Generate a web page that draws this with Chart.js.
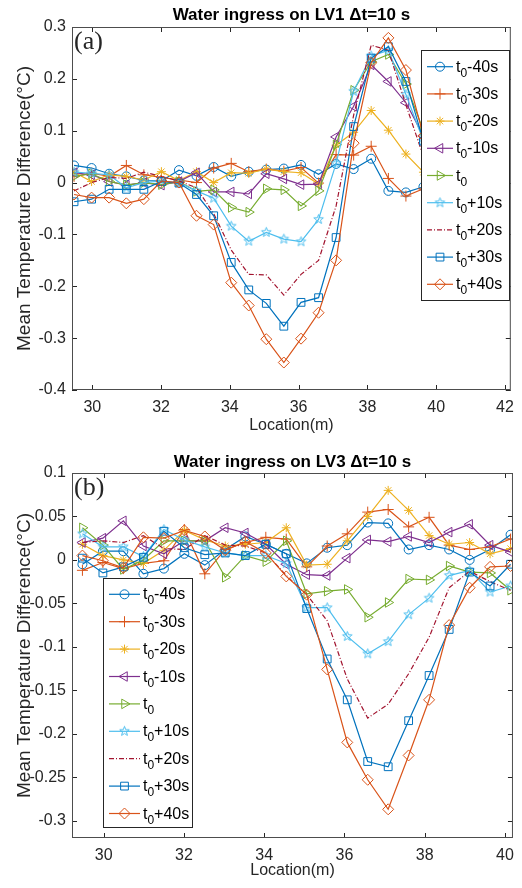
<!DOCTYPE html>
<html>
<head>
<meta charset="UTF-8">
<title>Water ingress</title>
<script src="https://cdn.jsdelivr.net/npm/chart.js@4.4.0/dist/chart.umd.min.js"></script>
<style>
  body { margin: 0; background: #fff; }
  canvas { display: block; }
</style>
</head>
<body>
<canvas id="chartA" width="522" height="444"></canvas>
<canvas id="chartB" width="522" height="444"></canvas>
<script>
// sensor locations (m), same for both panels
var xPos = [29.47, 29.98, 30.49, 30.99, 31.50, 32.01, 32.52, 33.03, 33.53, 34.04, 34.55,
            35.06, 35.57, 36.07, 36.58, 37.09, 37.60, 38.11, 38.61, 39.12, 39.63, 40.14];

var seriesLabels = ['t0-40s', 't0-30s', 't0-20s', 't0-10s', 't0', 't0+10s', 't0+20s', 't0+30s', 't0+40s'];

// panel (a): LV1
var lv1M40 = [0.033, 0.028, 0.017, 0.012, 0.004, 0.003, 0.024, 0.013, 0.030, 0.012, 0.021, 0.025, 0.027, 0.034, 0.016, 0.036, 0.026, 0.046, -0.016, -0.019, -0.008, 0.000];
var lv1M30 = [0.012, 0.018, 0.012, 0.033, 0.015, 0.010, 0.005, 0.000, 0.028, 0.037, 0.021, 0.026, 0.022, 0.029, -0.001, 0.054, 0.053, 0.070, 0.008, -0.026, -0.012, 0.000];
var lv1M20 = [0.020, 0.002, 0.015, 0.012, 0.005, 0.021, 0.004, 0.021, 0.000, 0.019, 0.018, 0.026, 0.021, 0.019, -0.003, 0.072, 0.097, 0.139, 0.101, 0.055, 0.020, 0.010];
var lv1M10 = [0.019, 0.015, 0.002, -0.005, 0.000, -0.005, 0.002, 0.019, -0.018, -0.018, -0.022, 0.017, 0.007, -0.004, -0.003, 0.088, 0.147, 0.227, 0.195, 0.154, 0.090, 0.030];
var lv1T0  = [0.012, 0.017, 0.002, -0.005, 0.000, -0.004, 0.002, -0.017, -0.014, -0.048, -0.057, -0.012, -0.014, -0.045, -0.016, 0.073, 0.178, 0.233, 0.247, 0.190, 0.100, 0.030];
var lv1P10 = [0.020, 0.018, 0.015, -0.010, 0.000, 0.003, 0.000, -0.016, -0.030, -0.084, -0.113, -0.096, -0.109, -0.114, -0.071, 0.037, 0.176, 0.244, 0.255, 0.170, 0.080, 0.020];
var lv1P20 = [-0.016, 0.000, 0.010, 0.008, 0.020, 0.012, 0.003, -0.010, -0.060, -0.130, -0.177, -0.178, -0.217, -0.177, -0.150, -0.045, 0.130, 0.265, 0.255, 0.150, 0.050, 0.000];
var lv1P30 = [-0.037, -0.032, -0.013, -0.013, -0.013, 0.002, -0.001, -0.023, -0.064, -0.154, -0.207, -0.233, -0.277, -0.231, -0.222, -0.106, 0.108, 0.240, 0.262, 0.195, 0.080, 0.010];
var lv1P40 = [-0.023, -0.029, -0.029, -0.040, -0.032, 0.003, 0.000, -0.064, -0.081, -0.193, -0.237, -0.302, -0.347, -0.301, -0.251, -0.150, 0.076, 0.231, 0.279, 0.217, 0.090, 0.010];

// panel (b): LV3
var lv3M40 = [-0.005, 0.010, 0.010, -0.016, -0.010, 0.007, -0.006, 0.012, 0.027, 0.018, 0.007, -0.004, 0.014, 0.017, 0.043, 0.042, 0.012, 0.017, 0.012, 0.000, 0.012, 0.029];
var lv3M30 = [-0.012, -0.003, -0.010, -0.004, -0.001, 0.035, -0.016, 0.012, 0.020, 0.026, 0.024, -0.008, 0.016, 0.030, 0.055, 0.058, 0.038, 0.049, 0.017, 0.012, 0.015, 0.024];
var lv3M20 = [0.018, 0.005, 0.000, -0.004, 0.011, 0.034, 0.023, 0.016, 0.018, 0.020, 0.037, -0.006, -0.005, 0.022, 0.050, 0.080, 0.057, 0.028, 0.018, 0.020, 0.007, 0.013];
var lv3M10 = [0.020, 0.025, 0.045, 0.016, 0.007, 0.022, 0.022, 0.037, 0.031, 0.018, -0.005, -0.017, -0.018, 0.002, 0.023, 0.021, 0.027, 0.020, 0.032, 0.041, 0.017, 0.009];
var lv3T0  = [0.037, 0.017, -0.011, 0.000, 0.022, 0.022, 0.022, -0.020, 0.005, -0.002, 0.022, -0.039, -0.036, -0.034, -0.066, -0.049, -0.022, -0.023, -0.007, -0.014, -0.015, -0.035];
var lv3P10 = [0.030, 0.015, 0.015, 0.004, 0.035, 0.023, 0.015, 0.008, 0.005, 0.005, -0.004, -0.055, -0.055, -0.088, -0.108, -0.094, -0.063, -0.044, -0.018, -0.012, -0.037, -0.030];
var lv3P20 = [0.020, 0.022, 0.020, 0.028, 0.013, 0.012, 0.028, 0.017, 0.016, 0.008, -0.018, -0.040, -0.070, -0.137, -0.182, -0.166, -0.131, -0.089, -0.032, -0.013, -0.025, -0.035];
var lv3P30 = [0.002, -0.015, -0.008, 0.003, 0.033, 0.014, 0.006, 0.008, 0.005, 0.018, 0.007, -0.056, -0.114, -0.161, -0.232, -0.238, -0.185, -0.133, -0.080, -0.014, -0.030, -0.005];
var lv3P40 = [0.005, -0.001, -0.009, 0.026, 0.025, 0.034, 0.027, 0.011, 0.021, 0.008, -0.019, -0.040, -0.126, -0.210, -0.253, -0.287, -0.225, -0.161, -0.075, -0.032, -0.008, -0.007];

// tick labels
var xTicksA = [30, 32, 34, 36, 38, 40, 42];
var yTicksA = [0.3, 0.2, 0.1, 0, -0.1, -0.2, -0.3, -0.4];
var xTicksB = [30, 32, 34, 36, 38, 40];
var yTicksB = [0.1, 0.05, 0, -0.05, -0.1, -0.15, -0.2, -0.25, -0.3];

// matlab default colour order
var colors = ['#0072BD', '#D95319', '#EDB120', '#7E2F8E', '#77AC30', '#4DBEEE', '#A2142F', '#0072BD', '#D95319'];

function pentagram(color, r) {
  var c = document.createElement('canvas');
  var s = Math.ceil(r * 2 + 3);
  c.width = s; c.height = s;
  var g = c.getContext('2d');
  g.strokeStyle = color;
  g.lineWidth = 1;
  g.beginPath();
  for (var k = 0; k < 10; k++) {
    var rr = k % 2 ? r * 0.42 : r;
    var ang = -Math.PI / 2 + k * Math.PI / 5;
    g.lineTo(s / 2 + rr * Math.cos(ang), s / 2 + rr * Math.sin(ang));
  }
  g.closePath();
  g.stroke();
  return c;
}

var markers = [
  { style: 'circle', rot: 0, r: 4.5 },
  { style: 'cross', rot: 0, r: 5.5 },
  { style: 'star', rot: 0, r: 4.5 },
  { style: 'triangle', rot: -90, r: 5.5 },
  { style: 'triangle', rot: 90, r: 5.5 },
  { style: pentagram(colors[5], 5), rot: 0, r: 5 },
  { style: 'circle', rot: 0, r: 0 },
  { style: 'rect', rot: 0, r: 5.5 },
  { style: 'rectRot', rot: 0, r: 5.5 }
];

function makeDatasets(values) {
  return values.map(function (v, i) {
    return {
      label: seriesLabels[i],
      data: xPos.map(function (x, k) { return { x: x, y: v[k] }; }),
      borderColor: colors[i],
      borderWidth: 1.2,
      borderDash: i === 6 ? [5, 2, 1, 2] : [],
      pointStyle: markers[i].style,
      pointRotation: markers[i].rot,
      pointRadius: markers[i].r,
      pointBorderColor: colors[i],
      pointBackgroundColor: 'rgba(0,0,0,0)',
      pointBorderWidth: 1,
      tension: 0,
      order: -i
    };
  });
}

// axes box with inward ticks, panel letter and matlab-like legend
var matlabAxes = {
  id: 'matlabAxes',
  afterDraw: function (chart) {
    var ctx = chart.ctx, a = chart.chartArea, o = chart.options.plugins.matlabAxes;
    var sx = chart.scales.x, sy = chart.scales.y;
    ctx.save();
    ctx.strokeStyle = '#262626';
    ctx.lineWidth = 1;
    ctx.beginPath();
    sx.ticks.forEach(function (t) {
      var px = Math.round(sx.getPixelForValue(t.value)) + 0.5;
      ctx.moveTo(px, a.bottom); ctx.lineTo(px, a.bottom - 5);
      ctx.moveTo(px, a.top); ctx.lineTo(px, a.top + 5);
    });
    sy.ticks.forEach(function (t) {
      var py = Math.round(sy.getPixelForValue(t.value)) + 0.5;
      ctx.moveTo(a.left, py); ctx.lineTo(a.left + 5, py);
      ctx.moveTo(a.right, py); ctx.lineTo(a.right - 5, py);
    });
    ctx.stroke();
    ctx.strokeStyle = '#4d4d4d';
    ctx.strokeRect(a.left + 0.5, a.top + 0.5, a.right - a.left - 1, a.bottom - a.top - 1);

    // panel letter
    ctx.fillStyle = '#262626';
    ctx.font = '26px "Liberation Serif"';
    ctx.textBaseline = 'alphabetic';
    ctx.textAlign = 'left';
    ctx.fillText(o.panel, a.left + 2, a.top + 22);

    // legend
    var L = o.legend;
    ctx.fillStyle = '#fff';
    ctx.fillRect(L.x, L.y, L.w, L.h);
    ctx.strokeStyle = '#262626';
    ctx.strokeRect(L.x + 0.5, L.y + 0.5, L.w, L.h);
    chart.data.datasets.forEach(function (ds, i) {
      var cy = L.firstY + i * L.rowH;
      ctx.strokeStyle = ds.borderColor;
      ctx.lineWidth = 1.2;
      ctx.setLineDash(ds.borderDash);
      ctx.beginPath();
      ctx.moveTo(L.lineX0, cy); ctx.lineTo(L.lineX1, cy);
      ctx.stroke();
      ctx.setLineDash([]);
      if (ds.pointRadius > 0) {
        ctx.lineWidth = 1;
        ctx.fillStyle = 'rgba(0,0,0,0)';
        Chart.helpers.drawPoint(ctx, {
          pointStyle: ds.pointStyle, rotation: ds.pointRotation,
          radius: ds.pointRadius, borderWidth: 1
        }, (L.lineX0 + L.lineX1) / 2, cy);
      }
      // t with subscript 0, then the rest
      var lab = ds.label;
      ctx.fillStyle = '#000';
      ctx.font = '16px "Liberation Sans"';
      ctx.textBaseline = 'alphabetic';
      var tx = L.textX, base = cy + 5;
      ctx.fillText(lab.charAt(0), tx, base);
      tx += ctx.measureText(lab.charAt(0)).width;
      ctx.font = '12px "Liberation Sans"';
      ctx.fillText(lab.charAt(1), tx, base + 5);
      tx += ctx.measureText(lab.charAt(1)).width;
      ctx.font = '16px "Liberation Sans"';
      ctx.fillText(lab.slice(2), tx, base);
    });
    ctx.restore();
  }
};

function fmt(v) { return String(+Number(v).toFixed(2)); }

function makeChart(id, title, values, xr, yr, xt, yt, pad, xh, legend, panel) {
  return new Chart(document.getElementById(id), {
    type: 'line',
    data: { datasets: makeDatasets(values) },
    plugins: [matlabAxes],
    options: {
      responsive: false,
      animation: false,
      devicePixelRatio: 1,
      layout: { padding: { left: 0, right: pad.right, top: 0, bottom: 0 } },
      plugins: {
        legend: { display: false },
        tooltip: { enabled: false },
        title: {
          display: true, text: title, fullSize: false, color: '#000',
          font: { family: 'Liberation Sans', size: 17, weight: 'bold' },
          padding: { top: pad.titleTop, bottom: pad.titleBottom }
        },
        matlabAxes: { legend: legend, panel: panel }
      },
      scales: {
        x: {
          type: 'linear', min: xr[0], max: xr[1],
          afterBuildTicks: function (s) { s.ticks = xt.map(function (v) { return { value: v }; }); },
          afterFit: function (s) { s.height = xh; },
          grid: { display: false, drawTicks: false },
          border: { display: false },
          ticks: { color: '#262626', padding: 8, maxRotation: 0, font: { family: 'Liberation Sans', size: 16 }, callback: fmt },
          title: { display: true, text: 'Location(m)', color: '#262626', font: { family: 'Liberation Sans', size: 16 }, padding: { top: 0, bottom: pad.xTitle } }
        },
        y: {
          type: 'linear', min: yr[0], max: yr[1],
          afterBuildTicks: function (s) { s.ticks = yt.map(function (v) { return { value: v }; }); },
          afterFit: function (s) { s.width = 72; },
          grid: { display: false, drawTicks: false },
          border: { display: false },
          ticks: { color: '#262626', padding: 6, font: { family: 'Liberation Sans', size: 16 }, callback: fmt },
          title: { display: true, text: 'Mean Temperature Difference(°C)', color: '#262626', font: { family: 'Liberation Sans', size: 19 }, padding: { top: 13, bottom: 0 } }
        }
      }
    }
  });
}

makeChart('chartA', 'Water ingress on LV1 \u0394t=10 s',
  [lv1M40, lv1M30, lv1M20, lv1M10, lv1T0, lv1P10, lv1P20, lv1P30, lv1P40],
  [29.41, 42.17], [-0.4, 0.3], xTicksA, yTicksA,
  { right: 4, titleTop: 5, titleBottom: 1.6, xTitle: 9 }, 54,
  { x: 421, y: 50, w: 88, h: 250, firstY: 66.7, rowH: 27.2, lineX0: 427, lineX1: 453, textX: 456 }, '(a)');

makeChart('chartB', 'Water ingress on LV3 \u0394t=10 s',
  [lv3M40, lv3M30, lv3M20, lv3M10, lv3T0, lv3P10, lv3P20, lv3P30, lv3P40],
  [29.21, 40.2], [-0.32, 0.1], xTicksB, yTicksB,
  { right: 3, titleTop: 8.6, titleBottom: 0, xTitle: 8 }, 50,
  { x: 103, y: 134, w: 89, h: 249, firstY: 150.3, rowH: 27.4, lineX0: 109, lineX1: 140, textX: 143 }, '(b)');
</script>
</body>
</html>
